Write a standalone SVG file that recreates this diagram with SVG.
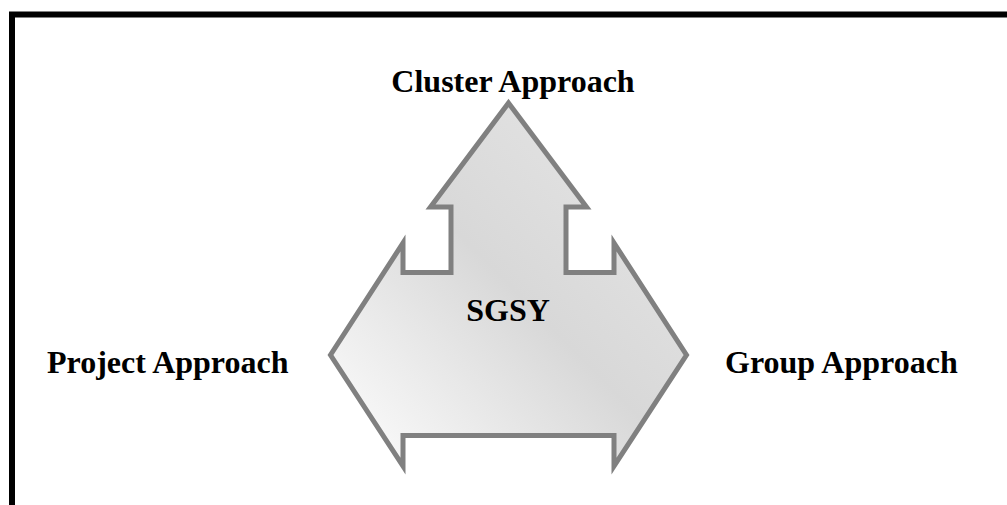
<svg xmlns="http://www.w3.org/2000/svg" width="1007" height="505" viewBox="0 0 1007 505">
  <style>
    .lbl { font-family: "Liberation Serif", "Times New Roman", serif; font-weight: bold; font-size: 32px; fill: #000000; }
    .frame { fill: none; stroke: #000000; stroke-width: 6; }
    .arrow { fill: url(#fillGrad); stroke: #808080; stroke-width: 5; stroke-linejoin: miter; stroke-miterlimit: 10; }
  </style>
  <defs>
    <linearGradient id="fillGrad" x1="0" y1="1" x2="1" y2="0">
      <stop offset="0" stop-color="#ffffff"/>
      <stop offset="0.5" stop-color="#d8d8d8"/>
      <stop offset="1" stop-color="#e8e8e8"/>
    </linearGradient>
  </defs>
  <rect x="0" y="0" width="1007" height="505" fill="#ffffff"/>
  <g id="frame">
    <rect class="frame" x="12" y="14.5" width="1100" height="600"/>
  </g>
  <g id="sgsy">
    <polygon class="arrow" points="508.5,103 586.5,207 566,207 566,272.5 614,272.5 614,243 686.5,355 614,466 614,435.5 403,435.5 403,466 330.5,355 403,243 403,272.5 451,272.5 451,207 430.5,207"/>
    <text class="lbl" x="508" y="321" text-anchor="middle">SGSY</text>
  </g>
  <g id="cluster">
    <text class="lbl" x="513" y="92" text-anchor="middle">Cluster Approach</text>
  </g>
  <g id="project">
    <text class="lbl" x="47" y="373">Project Approach</text>
  </g>
  <g id="group">
    <text class="lbl" x="725" y="373">Group Approach</text>
  </g>
</svg>
